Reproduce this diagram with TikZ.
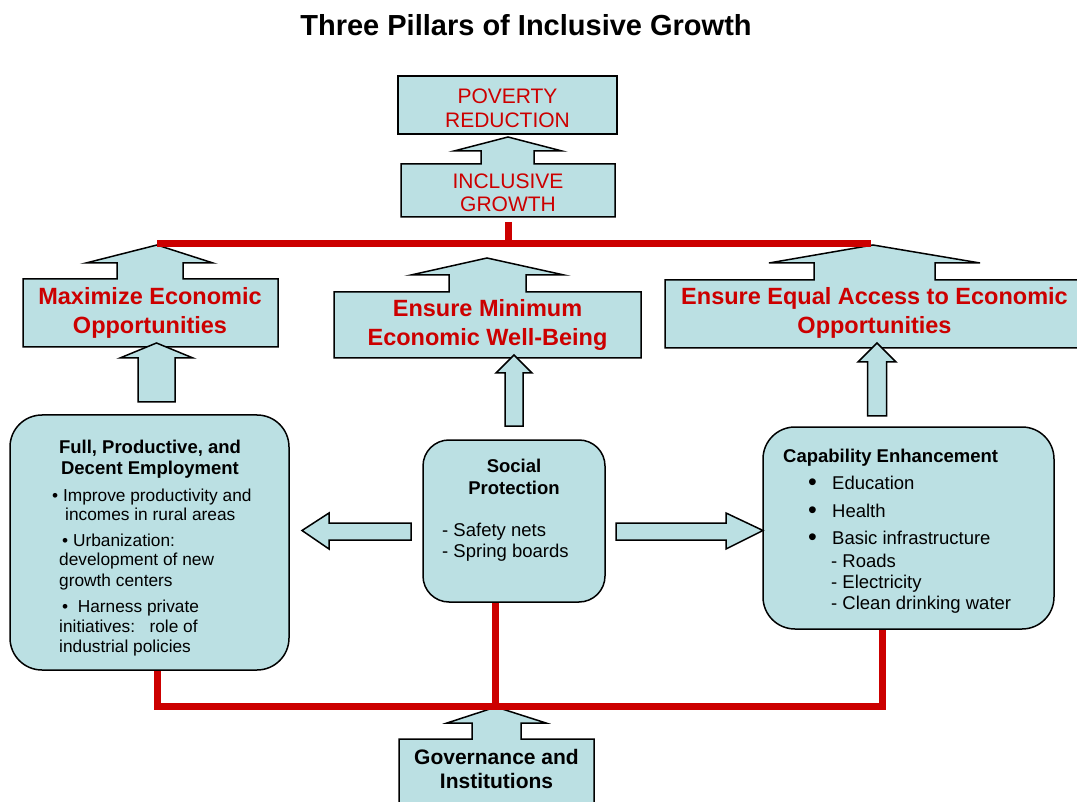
\documentclass[tikz,border=0pt]{standalone}
\usepackage{fontspec}
\setmainfont{Liberation Sans}
\definecolor{boxfill}{RGB}{187,224,227}
\definecolor{pred}{RGB}{204,0,0}
\tikzset{
  shp/.style={draw=black, fill=boxfill, line width=1.5pt, line join=miter},
  rbox/.style={draw=black, fill=boxfill, line width=1.5pt, rounded corners=32pt},
  redline/.style={draw=pred, line width=7pt, line join=miter},
  hd/.style={text=pred, font=\fontsize{21}{23.5}\selectfont, align=center, inner sep=0pt},
  pil/.style={text=pred, font=\bfseries\fontsize{23.5}{29}\selectfont, align=center, inner sep=0pt},
  bt/.style={font=\bfseries\fontsize{18.5}{21.5}\selectfont, align=center, inner sep=0pt},
  lt/.style={font=\fontsize{17.3}{20}\selectfont, anchor=mid west, inner sep=0pt},
  rt/.style={font=\fontsize{18.5}{21}\selectfont, anchor=mid west, inner sep=0pt},
  bul/.style={font=\fontsize{25}{25}\selectfont, anchor=mid west, inner sep=0pt},
}
\newcommand\blockup[6]{% x, tip y, wing y, bottom y, half wing, half shaft
  \draw[shp] (#1,#2) -- (#1+#5,#3) -- (#1+#6,#3) -- (#1+#6,#4) -- (#1-#6,#4) -- (#1-#6,#3) -- (#1-#5,#3) -- cycle;}
\begin{document}
\begin{tikzpicture}[x=1pt,y=-1pt]
\useasboundingbox (0,0) rectangle (1077,802);

% title
\node[font=\bfseries\fontsize{29}{33}\selectfont, inner sep=0pt] (title) at (526,25) {Three Pillars of Inclusive Growth};

% poverty reduction
\node[shp, minimum width=219pt, minimum height=58pt, inner sep=0pt] (pov) at (507.5,105) {};
\node[hd] (povt) at (507.5,108.5) {POVERTY\\REDUCTION};

% inclusive growth (box with up arrow)
\draw[shp] (401,217) -- (401,164) -- (481,164) -- (481,151) -- (454,151) -- (508,137) -- (562,151) -- (534,151) -- (534,164) -- (615,164) -- (615,217) -- cycle;
\node[hd] (ig) at (508,193) {INCLUSIVE\\GROWTH};

% pillar 1
\draw[shp] (23,347) -- (23,279) -- (117,279) -- (117,263) -- (86,263) -- (157,245) -- (213,263) -- (183,263) -- (183,279) -- (278,279) -- (278,347) -- cycle;
\node[pil] (p1) at (150,313) {Maximize Economic\\Opportunities};

% pillar 2
\draw[shp] (334,358) -- (334,292) -- (449,292) -- (449,275) -- (411,275) -- (487,258) -- (564,275) -- (526,275) -- (526,292) -- (641,292) -- (641,358) -- cycle;
\node[pil] (p2) at (487.5,325) {Ensure Minimum\\Economic Well-Being};

% pillar 3
\draw[shp] (665,348) -- (665,280) -- (814,280) -- (814,263) -- (769,263) -- (873,245) -- (980,263) -- (935,263) -- (935,280) -- (1082,280) -- (1082,348) -- cycle;
\node[pil] (p3) at (874.5,313) {Ensure Equal Access to Economic\\Opportunities};

% up arrows below pillars
\blockup{156.5}{343}{358}{402}{36.5}{18.5}
\blockup{514}{355}{373}{426}{18}{9}
\blockup{877}{343}{362}{416}{19}{9.5}

% rounded boxes
\node[rbox, minimum width=279pt, minimum height=255pt] (emp) at (149.5,542.5) {};
\node[rbox, rounded corners=26pt, minimum width=182pt, minimum height=162pt] (sp) at (514,521) {};
\node[rbox, minimum width=291pt, minimum height=202pt] (cap) at (908.5,528) {};

% side arrows
\draw[shp] (411,523) -- (329,523) -- (329,513) -- (302,530.5) -- (329,549) -- (329,540) -- (411,540) -- cycle;
\draw[shp] (616,523) -- (726,523) -- (726,513) -- (763,530.5) -- (726,549) -- (726,540) -- (616,540) -- cycle;

% employment text
\node[bt] (empt) at (150,459) {Full, Productive, and\\Decent Employment};
\node[lt] (e1) at (52,499) {\textbullet\ Improve productivity and};
\node[lt] (e2) at (65,518) {incomes in rural areas};
\node[lt] (e3) at (62,544) {\textbullet\ Urbanization:};
\node[lt] (e4) at (59,563) {development of new};
\node[lt] (e5) at (59,584) {growth centers};
\node[lt] (e6) at (62,610) {\textbullet\ \ Harness private};
\node[lt] (e7) at (59,630) {initiatives:\ \ \ role of};
\node[lt] (e8) at (59,650) {industrial policies};

% social protection text
\node[bt] (spt) at (514,477) {Social\\Protection};
\node[rt] (s1) at (442,534) {- Safety nets};
\node[rt] (s2) at (442,555) {- Spring boards};

% capability text
\node[bt, anchor=mid west] (capt) at (783,459.5) {Capability Enhancement};
\node[bul] (cb1) at (808,488) {\textbullet};
\node[rt] (c1) at (832,487) {Education};
\node[bul] (cb2) at (808,516) {\textbullet};
\node[rt] (c2) at (832,515) {Health};
\node[bul] (cb3) at (808,543) {\textbullet};
\node[rt] (c3) at (832,542) {Basic infrastructure};
\node[rt] (c4) at (831,565) {- Roads};
\node[rt] (c5) at (831,586) {- Electricity};
\node[rt] (c6) at (831,607) {- Clean drinking water};

% governance
\draw[shp] (399,812) -- (399,739) -- (472,739) -- (472,723) -- (447,723) -- (496,707) -- (546,723) -- (521,723) -- (521,739) -- (594,739) -- (594,812) -- cycle;
\node[font=\bfseries\fontsize{21}{24}\selectfont, align=center, inner sep=0pt] (gov) at (496.5,769) {Governance and\\Institutions};

% red connectors
\coordinate (tl) at (157,244);
\coordinate (tr) at (871,244);
\coordinate (igd) at (508,222);
\coordinate (bl) at (157,706);
\coordinate (br) at (882,706);
\coordinate (bm) at (495,706);
\draw[redline] (igd) -- (igd |- tl);
\draw[redline] (tl) -- (tr);
\draw[redline] (bl |- emp.south) -- (bl) -- (br) -- (br |- cap.south);
\draw[redline] (bm |- sp.south) -- (bm);
\end{tikzpicture}
\end{document}
